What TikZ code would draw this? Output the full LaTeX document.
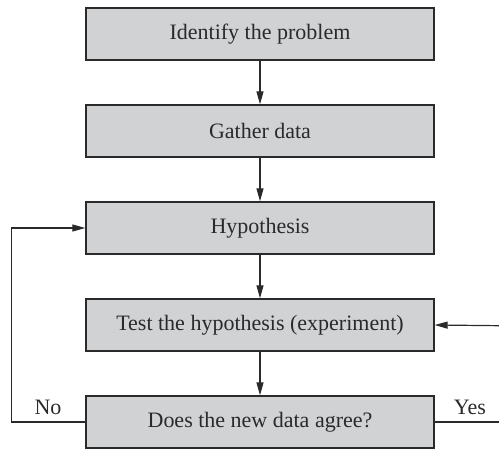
\documentclass[tikz,border=0pt]{standalone}
\usepackage{fontspec}
\setmainfont{Liberation Serif}
\usetikzlibrary{arrows.meta}
\definecolor{boxfill}{HTML}{D1D2D4}
\definecolor{ink}{HTML}{2A2A2A}
\begin{document}
\begin{tikzpicture}[x=1pt,y=-1pt,
  stepbox/.style={draw=ink,line width=1.3pt,fill=boxfill,minimum width=348pt,
    minimum height=52pt,inner sep=0pt,font=\fontsize{22}{26}\selectfont,text=ink},
  link/.style={draw=ink,line width=1.2pt,-{Triangle[length=13pt,width=7pt]}},
  plain/.style={draw=ink,line width=1.2pt},
  lbl/.style={font=\fontsize{22}{26}\selectfont,text=ink,inner sep=0pt}]
\useasboundingbox (0,0) rectangle (499,449);
\node[stepbox] (s1) at (260,34) {Identify the problem};
\node[stepbox] (s2) at (260,131) {Gather data};
\node[stepbox] (s3) at (260,228) {Hypothesis};
\node[stepbox] (s4) at (260,325) {Test the hypothesis (experiment)};
\node[stepbox] (s5) at (260,422) {Does the new data agree?};
\coordinate (lft) at (11.5,0);
\coordinate (rin) at (499,325.7);
\coordinate (rout) at (499,422);
\draw[link] (s1) -- (s2);
\draw[link] (s2) -- (s3);
\draw[link] (s3) -- (s4);
\draw[link] (s4) -- (s5);
\draw[link] (s5.west) -| (lft |- s3.west) -- (s3.west);
\draw[plain] (s5.east) -- (rout);
\draw[link] (rin) -- (s4.east);
\node[lbl] (no) at (48,407) {No};
\node[lbl] (yes) at (470,407) {Yes};
\end{tikzpicture}
\end{document}
